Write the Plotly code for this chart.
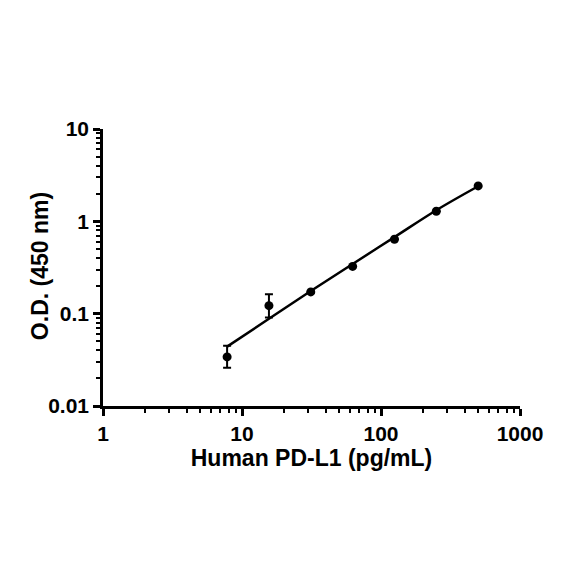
import plotly.graph_objects as go

conc = [7.8125, 15.625, 31.25, 62.5, 125, 250, 500]
od_mean = [0.034, 0.122, 0.172, 0.325, 0.64, 1.285, 2.42]
od_err_plus = [0.011, 0.040, 0.0, 0.0, 0.0, 0.0, 0.0]
od_err_minus = [0.008, 0.031, 0.0, 0.0, 0.0, 0.0, 0.0]
fit_x = [7.8125, 15.625, 31.25, 62.5, 125, 250, 500]
fit_y = [0.044, 0.088, 0.176, 0.345, 0.675, 1.32, 2.4]

x_tickvals = [1, 10, 100, 1000]
x_ticktext = ["1", "10", "100", "1000"]
y_tickvals = [0.01, 0.1, 1, 10]
y_ticktext = ["0.01", "0.1", "1", "10"]

font_family = "Liberation Sans, Arial, sans-serif"

fig = go.Figure()
fig.add_trace(go.Scatter(
    x=fit_x, y=fit_y, mode="lines",
    line=dict(color="black", width=2.5, shape="spline"),
    showlegend=False, hoverinfo="skip"))
fig.add_trace(go.Scatter(
    x=conc, y=od_mean, mode="markers",
    marker=dict(color="black", size=9),
    error_y=dict(type="data", symmetric=False, array=od_err_plus,
                 arrayminus=od_err_minus, color="black", thickness=2, width=4),
    showlegend=False))

axis_common = dict(
    type="log", showgrid=False, zeroline=False, automargin=False,
    showline=True, linecolor="black", linewidth=2.5,
    ticks="outside", ticklen=7, tickwidth=2.5, tickcolor="black",
    tickfont=dict(family=font_family, size=21, color="black", weight="bold"),
    minor=dict(ticks="outside", ticklen=4, tickwidth=2, tickcolor="black",
               dtick="D1", showgrid=False),
)

fig.update_layout(
    width=584, height=584,
    paper_bgcolor="white", plot_bgcolor="white",
    margin=dict(l=95, r=72, t=121, b=186),
    font=dict(family=font_family, color="black"),
    xaxis=dict(range=[0, 3], tickvals=x_tickvals, ticktext=x_ticktext,
               title=dict(text="<b>Human PD-L1 (pg/mL)</b>",
                          font=dict(family=font_family, size=23, color="black"),
                          standoff=4),
               **axis_common),
    yaxis=dict(range=[-2, 1], tickvals=y_tickvals, ticktext=y_ticktext,
               **axis_common),
    annotations=[dict(
        text="<b>O.D. (450 nm)</b>", textangle=-90, showarrow=False,
        xref="paper", yref="paper", x=-0.151, y=0.505,
        xanchor="center", yanchor="middle",
        font=dict(family=font_family, size=23, color="black"))],
)

fig.write_html("out.html")
